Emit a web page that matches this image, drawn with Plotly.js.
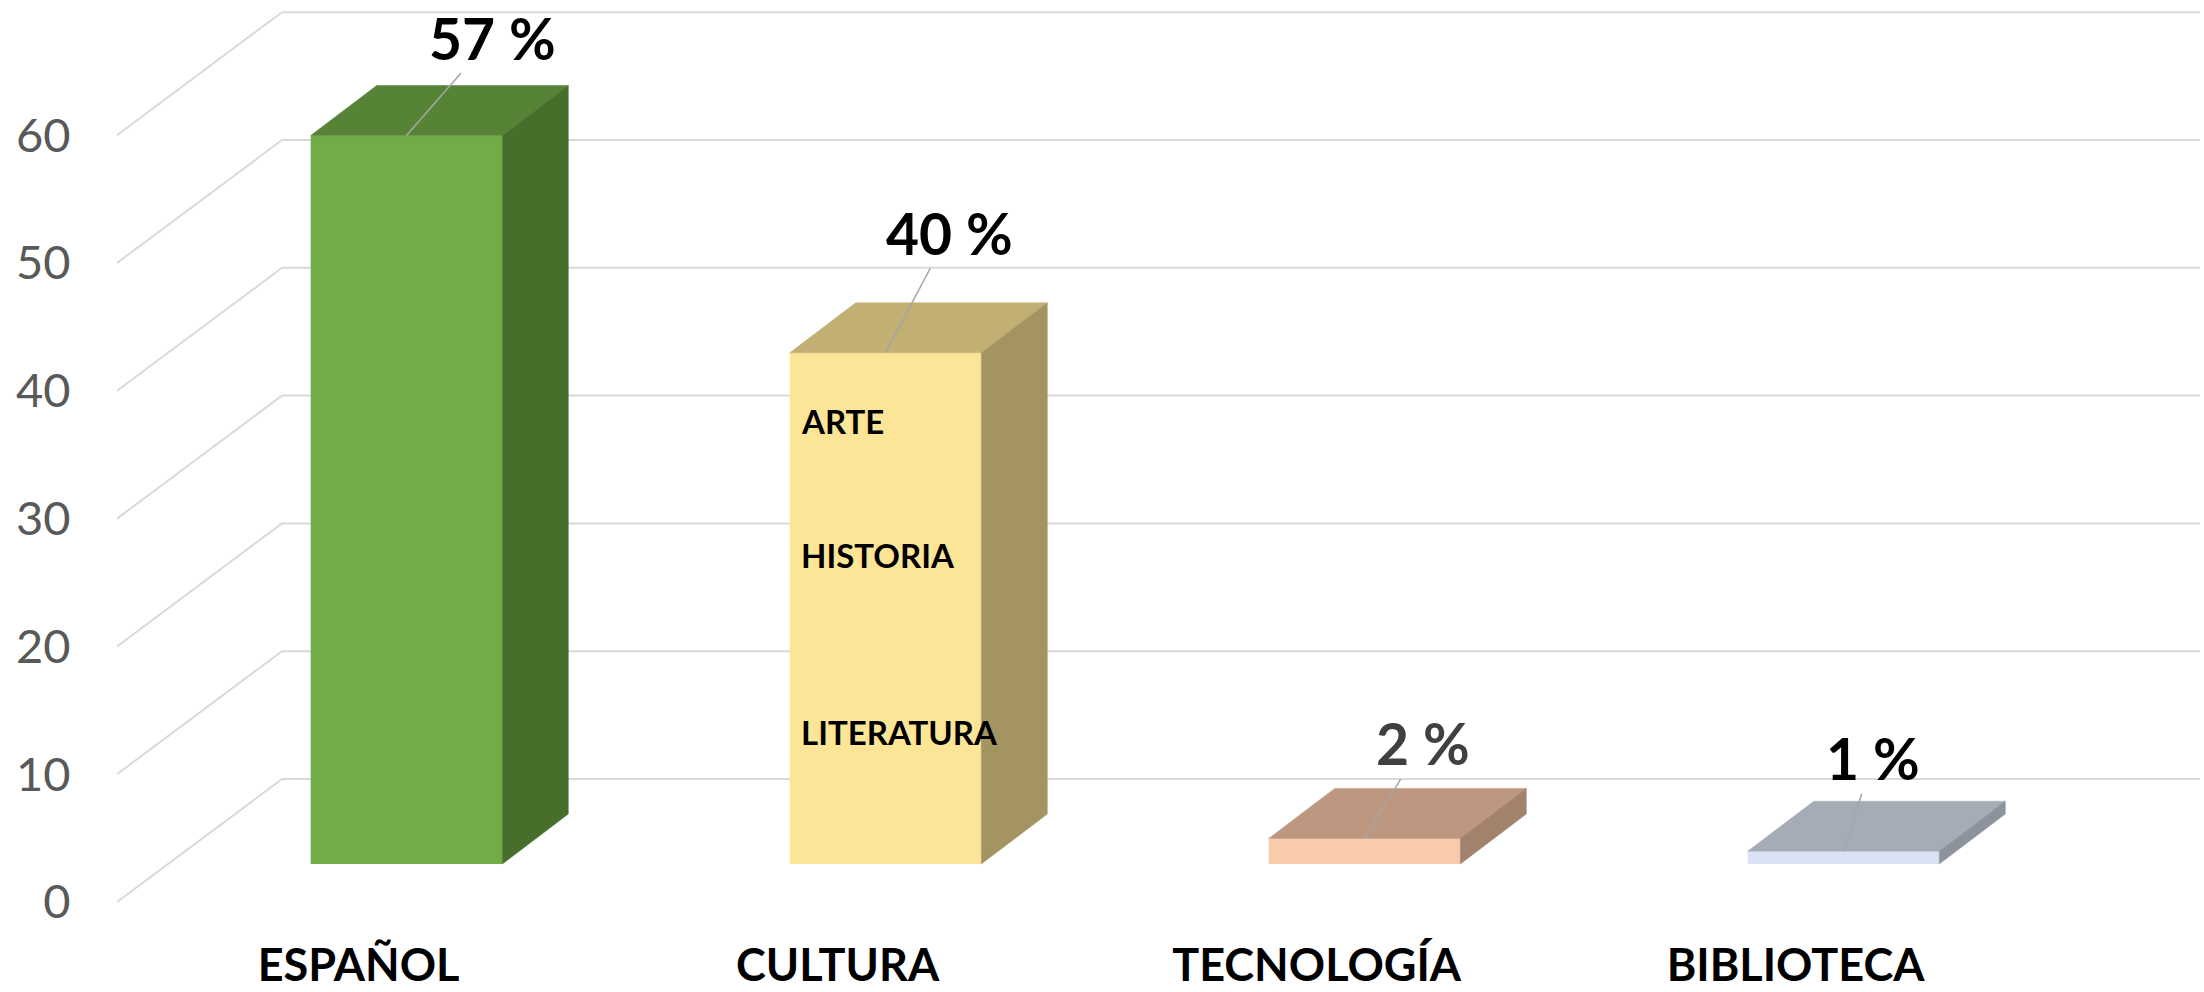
<!DOCTYPE html>
<html>
<head>
<meta charset="utf-8">
<script src="https://cdn.plot.ly/plotly-3.0.1.min.js"></script>
<style>html,body{margin:0;padding:0;background:#fff;}#chart{width:2204px;height:992px;}</style>
</head>
<body>
<div id="chart"></div>
<script>
// ---- data ----
const categories = ['ESPAÑOL', 'CULTURA', 'TECNOLOGÍA', 'BIBLIOTECA'];
const values = [57, 40, 2, 1];
const valueLabels = ['57 %', '40 %', '2 %', '1 %'];
const yTickValues = [0, 10, 20, 30, 40, 50, 60];
const cultureTopics = ['ARTE', 'HISTORIA', 'LITERATURA'];
const cultureTopicLevels = [34.7, 24.2, 10.3];

// ---- style / geometry ----
const frontColors = ['#70AD47', '#FDE597', '#F8CBAD', '#DAE3F3'];
const topColors   = ['#578337', '#C2AF73', '#BE9781', '#A6ACB6'];
const sideColors  = ['#476F2B', '#A39461', '#A3826D', '#8C939D'];
const labelColors = ['#000000', '#000000', '#404040', '#000000'];
const labelOffsets = [[85.5, -98], [63.5, -120], [58, -95], [29.5, -93]];

const PX_X = 479;      // pixels per category step
const PX_Y = 12.78;    // pixels per value unit
const barWidth = 0.4;
const depthX = 66 / PX_X;      // bar depth, x direction (data units)
const depthY = 50 / PX_Y;      // bar depth, y direction (data units)
const frontWallOff = -38 / PX_Y;   // front edge of floor relative to bar front plane
const backWallOff = 85 / PX_Y;     // back wall relative to bar front plane
const wallFrontX = (117 - 406.5) / PX_X;
const wallBackX = (282 - 406.5) / PX_X;
const gridRightX = (2200 - 406.5) / PX_X;
const gridColor = '#D9D9D9';
const fontFamily = 'Lato, "Open Sans", sans-serif';

const xs = categories.map((c, i) => i);
const traces = [];

// top and side faces
values.forEach((v, i) => {
  const l = i - barWidth / 2, r = i + barWidth / 2;
  traces.push({
    type: 'scatter', mode: 'lines', fill: 'toself',
    x: [l, r, r + depthX, l + depthX, l],
    y: [v, v, v + depthY, v + depthY, v],
    fillcolor: topColors[i], line: {width: 0.5, color: topColors[i]},
    hoverinfo: 'skip', showlegend: false
  });
  traces.push({
    type: 'scatter', mode: 'lines', fill: 'toself',
    x: [r, r + depthX, r + depthX, r, r],
    y: [0, depthY, v + depthY, v, 0],
    fillcolor: sideColors[i], line: {width: 0.5, color: sideColors[i]},
    hoverinfo: 'skip', showlegend: false
  });
});

// front faces
traces.push({
  type: 'bar', x: xs, y: values, width: barWidth,
  marker: {color: frontColors, line: {width: 0}},
  hoverinfo: 'x+y', showlegend: false
});

// walls (grid lines)
const shapes = [];
yTickValues.forEach(v => {
  shapes.push({type: 'line', layer: 'below', xref: 'x', yref: 'y',
    x0: wallBackX, x1: gridRightX, y0: v + backWallOff, y1: v + backWallOff,
    line: {color: gridColor, width: 2}});
  shapes.push({type: 'line', layer: 'below', xref: 'x', yref: 'y',
    x0: wallFrontX, x1: wallBackX, y0: v + frontWallOff, y1: v + backWallOff,
    line: {color: gridColor, width: 2}});
});

const annotations = [];
values.forEach((v, i) => {
  annotations.push({
    x: i, y: v, xref: 'x', yref: 'y',
    text: '<b>' + valueLabels[i] + '</b>',
    showarrow: true, arrowhead: 0, arrowwidth: 1.5, arrowcolor: '#A6A6A6',
    ax: labelOffsets[i][0], ay: labelOffsets[i][1], standoff: 0,
    font: {family: fontFamily, size: 57, color: labelColors[i]}
  });
});
cultureTopics.forEach((t, k) => {
  annotations.push({
    x: 1 - barWidth / 2 + 9 / PX_X, y: cultureTopicLevels[k], xref: 'x', yref: 'y',
    xanchor: 'left', yanchor: 'middle', showarrow: false,
    text: '<b>' + t + '</b>',
    font: {family: fontFamily, size: 33, color: '#000000'}
  });
});

const layout = {
  width: 2204, height: 992,
  margin: {l: 117, r: 0, t: 0, b: 72},
  paper_bgcolor: '#ffffff', plot_bgcolor: '#ffffff',
  showlegend: false,
  xaxis: {
    range: [wallFrontX, (2204 - 406.5) / PX_X],
    showgrid: false, zeroline: false, showline: false,
    tickmode: 'array', tickvals: xs.map(i => i - 0.1), ticktext: categories.map(c => '<b>' + c + '</b>'),
    ticks: 'outside', ticklen: 6, tickcolor: 'rgba(0,0,0,0)',
    tickfont: {family: fontFamily, size: 45, color: '#000000'},
    fixedrange: true
  },
  yaxis: {
    range: [-(992 - 72 - 864) / PX_Y, 864 / PX_Y],
    showgrid: false, zeroline: false, showline: false,
    tickmode: 'array', tickvals: yTickValues.map(v => v + frontWallOff), ticktext: yTickValues.map(String),
    ticks: 'outside', ticklen: 36, tickcolor: 'rgba(0,0,0,0)',
    tickfont: {family: fontFamily, size: 47, color: '#595959'},
    fixedrange: true
  },
  shapes: shapes,
  annotations: annotations
};

Plotly.newPlot('chart', traces, layout, {displayModeBar: false, staticPlot: true});
</script>
</body>
</html>
